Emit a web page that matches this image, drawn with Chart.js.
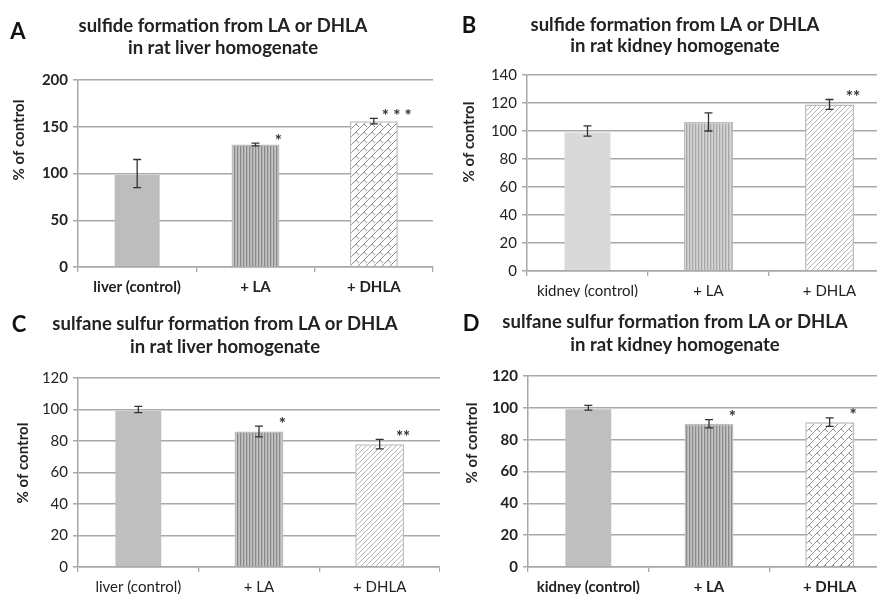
<!DOCTYPE html>
<html>
<head>
<meta charset="utf-8">
<script src="https://cdn.jsdelivr.net/npm/chart.js@4.4.1/dist/chart.umd.min.js"></script>
<style>
  html, body { margin: 0; padding: 0; background: #fff; overflow: hidden; }
  body { width: 877px; height: 594px; position: relative; }
  canvas { position: absolute; }
</style>
</head>
<body>
<canvas id="chartA" width="438" height="297" style="left:0;top:0"></canvas>
<canvas id="chartB" width="453" height="297" style="left:437px;top:0"></canvas>
<canvas id="chartC" width="440" height="297" style="left:0;top:297px"></canvas>
<canvas id="chartD" width="453" height="297" style="left:437px;top:297px"></canvas>
<script>
// categories
const liverLabels = ['liver (control)', '+ LA', '+ DHLA'];
const kidneyLabels = ['kidney (control)', '+ LA', '+ DHLA'];

// A: sulfide, liver
const sulfideLiver = [100, 131, 156];
const sulfideLiverErr = [15, 1.5, 3];
const sulfideLiverSig = ['', '*', '* * *'];
// B: sulfide, kidney
const sulfideKidney = [100, 106.5, 119];
const sulfideKidneyErr = [3.7, 6.5, 3.5];
const sulfideKidneySig = ['', '', '**'];
// C: sulfane sulfur, liver
const sulfaneLiver = [100, 86, 78];
const sulfaneLiverErr = [2, 3.4, 3];
const sulfaneLiverSig = ['', '*', '**'];
// D: sulfane sulfur, kidney
const sulfaneKidney = [100, 90, 91];
const sulfaneKidneyErr = [1.5, 2.6, 2.7];
const sulfaneKidneySig = ['', '*', '*'];

// y ticks
const ticksA = [0, 50, 100, 150, 200];
const ticksB = [0, 20, 40, 60, 80, 100, 120, 140];
const ticksCD = [0, 20, 40, 60, 80, 100, 120];

function makeTile(w, h, draw) {
  const c = document.createElement('canvas');
  c.width = w; c.height = h;
  draw(c.getContext('2d'));
  return document.createElement('canvas').getContext('2d').createPattern(c, 'repeat');
}

function stripes(bg, fg) {
  return makeTile(3, 4, g => {
    g.fillStyle = bg; g.fillRect(0, 0, 3, 4);
    g.fillStyle = fg; g.fillRect(0, 0, 1.3, 4);
  });
}

function bricks() {
  return makeTile(8, 8, g => {
    g.fillStyle = '#fff'; g.fillRect(0, 0, 8, 8);
    g.strokeStyle = '#8e8e8e'; g.lineWidth = 1;
    g.beginPath();
    g.moveTo(-1, 9); g.lineTo(9, -1);
    g.moveTo(-1, 1); g.lineTo(1, -1);
    g.moveTo(7, 9); g.lineTo(9, 7);
    g.moveTo(4, 4); g.lineTo(7, 7);
    g.stroke();
  });
}

function hatch() {
  return makeTile(5, 5, g => {
    g.fillStyle = '#fff'; g.fillRect(0, 0, 5, 5);
    g.strokeStyle = '#b4b4b4'; g.lineWidth = 1;
    g.beginPath();
    g.moveTo(-1, 6); g.lineTo(6, -1);
    g.moveTo(-1, 1); g.lineTo(1, -1);
    g.moveTo(4, 6); g.lineTo(6, 4);
    g.stroke();
  });
}

// draws panel letter, title, y title, error bars and stars
const extras = {
  id: 'extras',
  afterDatasetsDraw(chart, args, o) {
    const ctx = chart.ctx;
    const meta = chart.getDatasetMeta(0);
    const y = chart.scales.y;
    ctx.save();
    ctx.strokeStyle = '#333'; ctx.lineWidth = 1.3;
    meta.data.forEach((bar, i) => {
      const v = o.values[i], e = o.errors[i];
      const top = y.getPixelForValue(v + e), bot = y.getPixelForValue(v - e);
      ctx.beginPath();
      ctx.moveTo(bar.x, top); ctx.lineTo(bar.x, bot);
      ctx.moveTo(bar.x - 4, top); ctx.lineTo(bar.x + 4, top);
      ctx.moveTo(bar.x - 4, bot); ctx.lineTo(bar.x + 4, bot);
      ctx.stroke();
      if (o.sig[i]) {
        ctx.fillStyle = '#333';
        ctx.font = 'bold 17px Lato';
        ctx.textAlign = 'center'; ctx.textBaseline = 'middle';
        ctx.fillText(o.sig[i], bar.x + bar.width / 2 - 1, top - 2);
      }
    });
    ctx.restore();
  },
  afterDraw(chart, args, o) {
    const ctx = chart.ctx;
    ctx.save();
    ctx.fillStyle = '#111';
    ctx.textAlign = 'center'; ctx.textBaseline = 'middle';
    ctx.font = 'bold 22px Lato';
    ctx.fillText(o.letter, o.letterX, o.letterY);
    ctx.fillStyle = '#222';
    ctx.font = 'bold 18.5px Lato';
    o.title.forEach((t, i) => ctx.fillText(t, o.titleX, o.titleY[i]));
    ctx.translate(o.yTitleX, o.yTitleY);
    ctx.rotate(-Math.PI / 2);
    ctx.font = 'bold 15px Lato';
    ctx.fillText('% of control', 0, 0);
    ctx.restore();
  }
};

function makeChart(id, p) {
  const gridCol = '#a8a8a8';
  return new Chart(document.getElementById(id), {
    type: 'bar',
    data: {
      labels: p.labels,
      datasets: [{
        data: p.values,
        backgroundColor: p.fills,
        borderColor: ['rgba(0,0,0,0)', '#bdbdbd', '#bdbdbd'],
        borderWidth: 1.5,
        barPercentage: 0.405,
        categoryPercentage: 1
      }]
    },
    options: {
      responsive: false,
      animation: false,
      devicePixelRatio: 1,
      layout: { padding: { top: p.top, right: p.right, left: 0, bottom: 0 } },
      plugins: {
        legend: { display: false },
        tooltip: { enabled: false },
        extras: {
          values: p.values, errors: p.errors, sig: p.sig,
          letter: p.letter, letterX: p.letterX, letterY: p.letterY,
          title: p.title, titleX: p.titleX, titleY: p.titleY,
          yTitleX: p.yTitleX, yTitleY: p.yTitleY
        }
      },
      scales: {
        x: {
          afterFit: s => { s.height = p.xh; },
          grid: { drawOnChartArea: false, color: gridCol, lineWidth: 1.3, tickLength: 5 },
          border: { color: gridCol, width: 1.5 },
          ticks: { color: '#222', padding: 6, font: { family: 'Lato', size: 15, weight: p.bold ? 'bold' : 'normal' } }
        },
        y: {
          min: 0, max: p.ticks[p.ticks.length - 1],
          afterFit: s => { s.width = p.left; },
          afterBuildTicks: s => { s.ticks = p.ticks.map(v => ({ value: v })); },
          grid: { color: gridCol, lineWidth: 1.5, tickLength: 5 },
          border: { color: gridCol, width: 1.5 },
          ticks: { color: '#222', padding: 5, font: { family: 'Lato', size: 15, weight: p.bold ? 'bold' : 'normal' } }
        }
      }
    },
    plugins: [extras]
  });
}

makeChart('chartA', {
  labels: liverLabels, values: sulfideLiver, errors: sulfideLiverErr, sig: sulfideLiverSig,
  ticks: ticksA, fills: ['#bdbdbd', stripes('#c4c4c4', '#8a8a8a'), bricks()],
  left: 78, top: 80, right: 5, xh: 30, bold: true,
  letter: 'A', letterX: 18, letterY: 32,
  title: ['sulfide formation from LA or DHLA', 'in rat liver homogenate'], titleX: 223, titleY: [26, 48],
  yTitleX: 19, yTitleY: 140
});
makeChart('chartB', {
  labels: kidneyLabels, values: sulfideKidney, errors: sulfideKidneyErr, sig: sulfideKidneySig,
  ticks: ticksB, fills: ['#d9d9d9', stripes('#d6d6d6', '#a6a6a6'), hatch()],
  left: 90, top: 75, right: 0, xh: 26, bold: false,
  letter: 'B', letterX: 32, letterY: 26,
  title: ['sulfide formation from LA or DHLA', 'in rat kidney homogenate'], titleX: 238, titleY: [25, 46],
  yTitleX: 32, yTitleY: 142
});
makeChart('chartC', {
  labels: liverLabels, values: sulfaneLiver, errors: sulfaneLiverErr, sig: sulfaneLiverSig,
  ticks: ticksCD, fills: ['#bfbfbf', stripes('#c4c4c4', '#8a8a8a'), hatch()],
  left: 78, top: 81, right: 0, xh: 27, bold: false,
  letter: 'C', letterX: 19, letterY: 28,
  title: ['sulfane sulfur formation from LA or DHLA', 'in rat liver homogenate'], titleX: 225, titleY: [27, 50],
  yTitleX: 23, yTitleY: 166
});
makeChart('chartD', {
  labels: kidneyLabels, values: sulfaneKidney, errors: sulfaneKidneyErr, sig: sulfaneKidneySig,
  ticks: ticksCD, fills: ['#bfbfbf', stripes('#c4c4c4', '#8a8a8a'), bricks()],
  left: 91, top: 79, right: 0, xh: 27, bold: true,
  letter: 'D', letterX: 34, letterY: 27,
  title: ['sulfane sulfur formation from LA or DHLA', 'in rat kidney homogenate'], titleX: 238, titleY: [25, 48],
  yTitleX: 35, yTitleY: 146
});
</script>
</body>
</html>
